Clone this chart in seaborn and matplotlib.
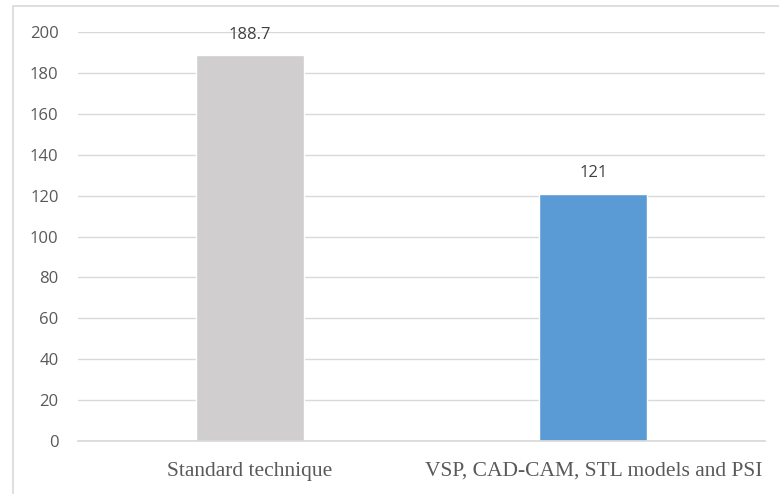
import matplotlib
matplotlib.use('Agg')
import matplotlib.pyplot as plt
from matplotlib.patches import Rectangle
import seaborn as sns
import pandas as pd

# Chart data
categories = ['Standard technique', 'VSP, CAD-CAM, STL models and PSI']
values = [188.7, 121]
value_labels = ['188.7', '121']
bar_colors = ['#d0cece', '#5b9bd5']
y_ticks = [0, 20, 40, 60, 80, 100, 120, 140, 160, 180, 200]

df = pd.DataFrame({'category': categories, 'value': values})

sns.set_theme(style='white')
plt.rcParams['font.family'] = ['Open Sans', 'DejaVu Sans']

fig = plt.figure(figsize=(7.79, 4.94), dpi=100)
ax = fig.add_axes([0.1001, 0.1073, 0.882, 0.8279])

sns.barplot(data=df, x='category', y='value', hue='category', palette=bar_colors,
            width=0.314, legend=False, ax=ax, saturation=1)

ax.set_ylim(0, 200)
ax.set_xlim(-0.5, 1.5)
ax.set_yticks(y_ticks)
ax.set_yticklabels([str(t) for t in y_ticks], fontsize=12, color='#595959')
ax.grid(axis='y', color='#d9d9d9', linewidth=1)
ax.set_axisbelow(True)
for s in ['top', 'right', 'left']:
    ax.spines[s].set_visible(False)
ax.spines['bottom'].set_color('#d9d9d9')
ax.tick_params(axis='y', length=0, pad=14)
ax.tick_params(axis='x', length=0, pad=15)
ax.set_xticks([0, 1])
ax.set_xticklabels(categories, family=['Liberation Serif'], fontsize=15.5, color='#595959')
ax.set_xlabel('')
ax.set_ylabel('')

for i, (v, lab) in enumerate(zip(values, value_labels)):
    ax.annotate(lab, (i, v), xytext=(0, 14.5), textcoords='offset points',
                ha='center', va='center', fontsize=12, color='#404040')

# light frame around the chart area
fig.patches.append(Rectangle((13 / 779, -0.1), 1.2, 1 - 6 / 494 + 0.1,
                             transform=fig.transFigure, fill=False,
                             edgecolor='#d9d9d9', linewidth=1.2))

fig.savefig('out.png', dpi=100)
